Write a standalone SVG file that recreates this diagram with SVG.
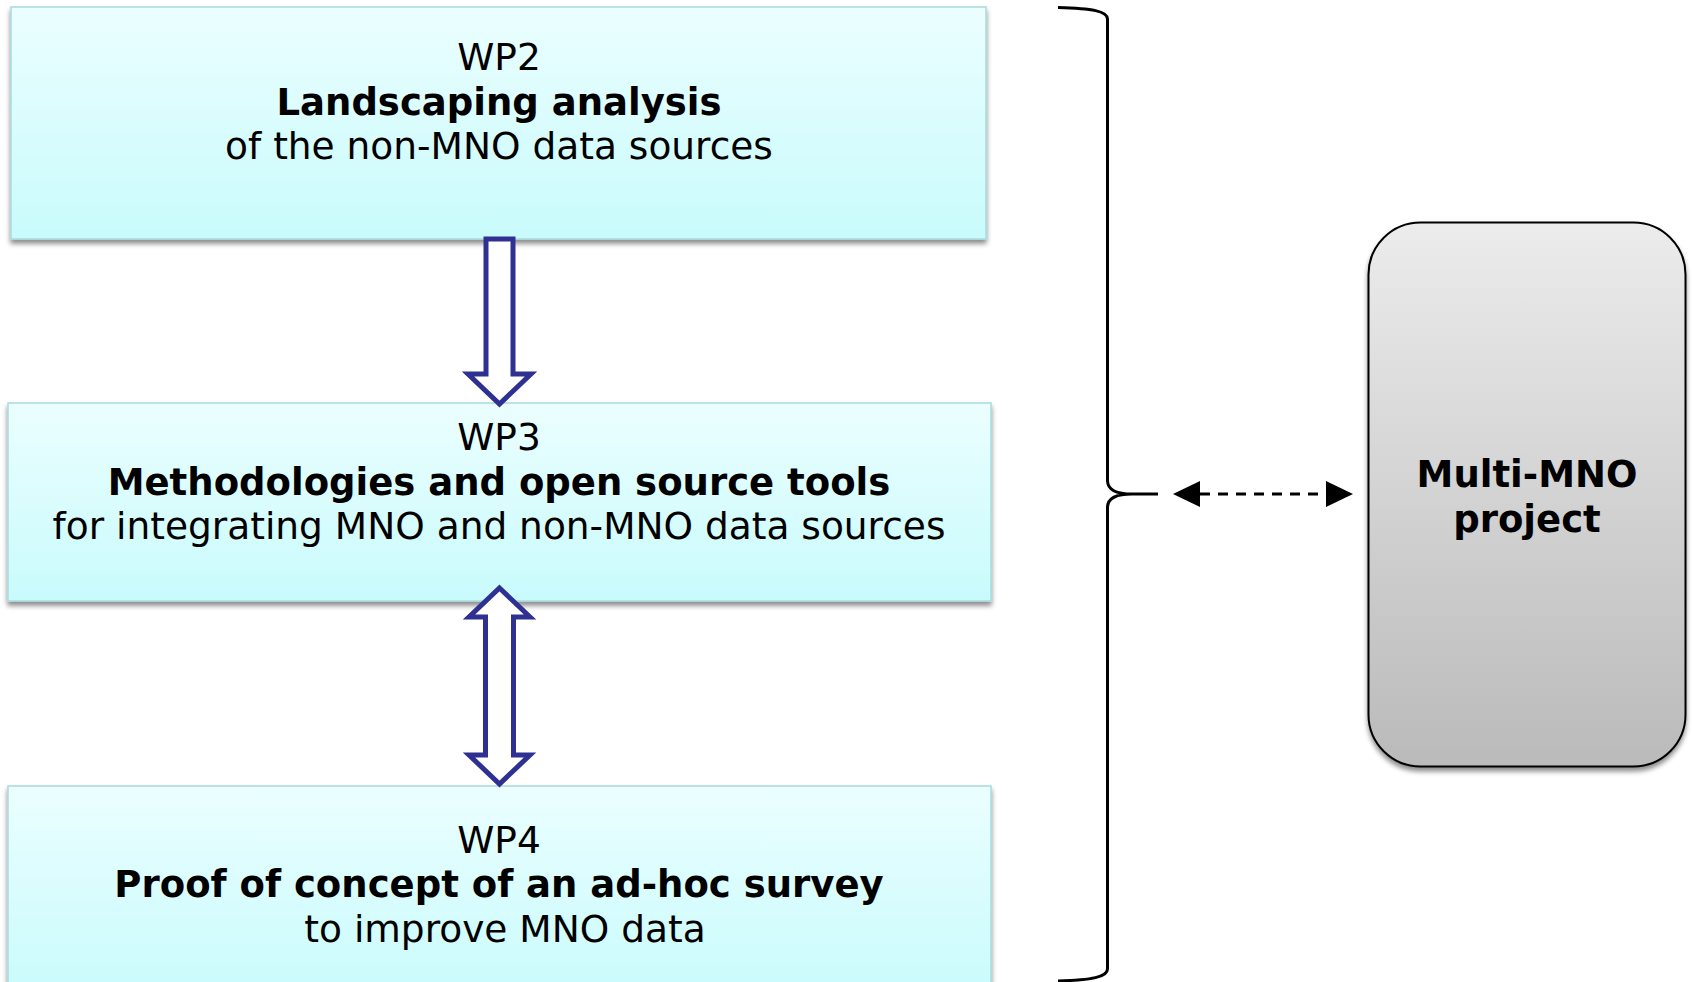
<svg xmlns="http://www.w3.org/2000/svg" width="1692" height="982" viewBox="0 0 1692 982">
  <defs>
    <linearGradient id="wpFill" x1="0" y1="0" x2="0" y2="1">
      <stop offset="0" stop-color="#EBFEFF"/>
      <stop offset="1" stop-color="#C9FBFC"/>
    </linearGradient>
    <linearGradient id="greyFill" x1="0" y1="0" x2="0" y2="1">
      <stop offset="0" stop-color="#ECECEC"/>
      <stop offset="1" stop-color="#BABABA"/>
    </linearGradient>
    <filter id="shadow" x="-5%" y="-5%" width="110%" height="115%">
      <feDropShadow dx="0" dy="4" stdDeviation="2.5" flood-color="#000" flood-opacity="0.45"/>
    </filter>
    <marker id="head" markerUnits="userSpaceOnUse" markerWidth="27" markerHeight="26" refX="0" refY="13" orient="auto-start-reverse" viewBox="0 0 27 26">
      <path d="M0,0 L27,13 L0,26 z" fill="#000"/>
    </marker>
    <style>
      .wp { fill: url(#wpFill); stroke: #A9DADC; stroke-width: 1.5; filter: url(#shadow); }
      .t { font-family: "DejaVu Sans", Verdana, sans-serif; font-size: 37.5px; fill: #000; text-anchor: middle; }
      .b { font-weight: bold; font-size: 37px; }
      .blk { fill: #fff; stroke: #2E3192; stroke-width: 5; stroke-linejoin: miter; }
    </style>
  </defs>

  <g id="wp2">
    <rect class="wp" x="11" y="7" width="975" height="232"/>
    <text class="t" x="499" y="70">WP2</text>
    <text class="t b" x="499" y="115">Landscaping analysis</text>
    <text class="t" x="499" y="159">of the non-MNO data sources</text>
  </g>

  <g id="wp3">
    <rect class="wp" x="8" y="403" width="983" height="198"/>
    <text class="t" x="499" y="450">WP3</text>
    <text class="t b" x="499" y="495">Methodologies and open source tools</text>
    <text class="t" x="499" y="539">for integrating MNO and non-MNO data sources</text>
  </g>

  <g id="wp4">
    <rect class="wp" x="8" y="786" width="983" height="210"/>
    <text class="t" x="499" y="853">WP4</text>
    <text class="t b" x="499" y="897">Proof of concept of an ad-hoc survey</text>
    <text class="t" x="505" y="942">to improve MNO data</text>
  </g>

  <g id="multi-mno">
    <rect x="1368.5" y="222.5" width="317" height="544" rx="52" ry="52" fill="url(#greyFill)" stroke="#000" stroke-width="2" filter="url(#shadow)"/>
    <text class="t b" x="1527" y="487">Multi-MNO</text>
    <text class="t b" x="1527" y="532">project</text>
  </g>

  <g id="connectors">
    <path class="blk" d="M486,239 L513,239 L513,374 L531,374 L499.5,404 L468,374 L486,374 Z"/>
    <path class="blk" d="M499.5,588 L530,617 L513.5,617 L513.5,755 L530,755 L499.5,784 L469,755 L485.5,755 L485.5,617 L469,617 Z"/>
    <path d="M1058,7.5 C1092,8.5 1107.5,11 1107.5,19 L1107.5,481 Q1108,494 1132,494 L1158,494 M1132,494 Q1108,494 1107.5,507 L1107.5,969 C1107.5,977 1092,980 1058,981" fill="none" stroke="#000" stroke-width="3"/>
    <line x1="1200" y1="494" x2="1326" y2="494" stroke="#000" stroke-width="3" stroke-dasharray="10,8" marker-start="url(#head)" marker-end="url(#head)"/>
  </g>
</svg>
